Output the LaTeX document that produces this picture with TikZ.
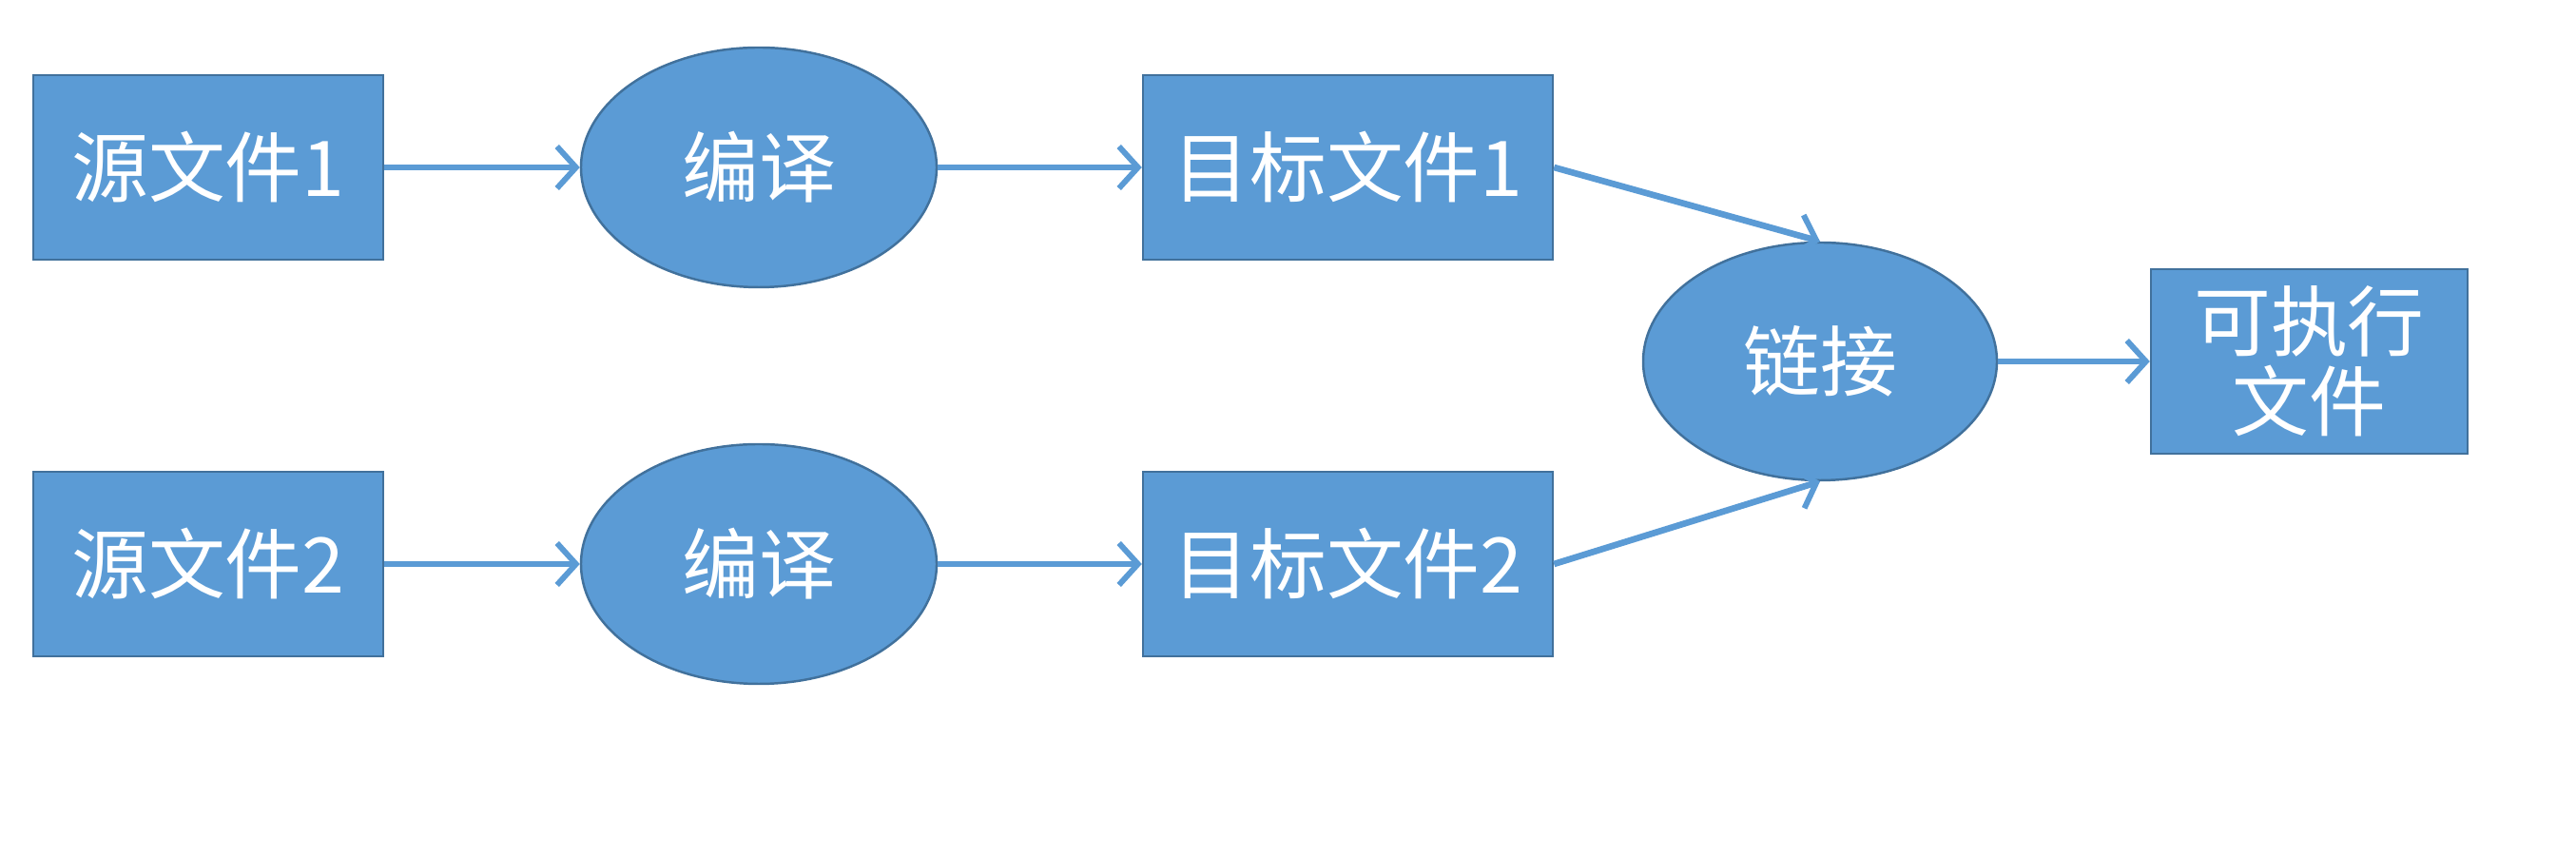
\documentclass[tikz,border=0pt]{standalone}
\usepackage{fontspec}
\setmainfont{Noto Sans CJK SC}
\usepackage{tikz}
\usetikzlibrary{arrows.meta,shapes.geometric}
\definecolor{officeblue}{HTML}{5B9BD5}
\definecolor{officeedge}{HTML}{41719C}
\tikzset{
  filebox/.style={rectangle, draw=officeedge, line width=0.7pt, fill=officeblue, text=white, align=center, minimum height=1.94cm, inner sep=2pt, font=\fontsize{23}{24}\selectfont},
  stepoval/.style={ellipse, draw=officeedge, line width=0.7pt, fill=officeblue, text=white, minimum width=3.74cm, minimum height=2.52cm, inner sep=0pt, font=\fontsize{23}{24}\selectfont},
  flow/.style={officeblue, line width=1.9pt, -{Straight Barb[length=2mm, width=4.4mm, line width=1.7pt]}}
}
\begin{document}
\begin{tikzpicture}
  \useasboundingbox (0,0) rectangle (27.09,9.01);
  % first row
  \node[filebox, minimum width=3.68cm] (src1) at (2.19,7.25) {源文件1};
  \node[stepoval] (cmp1) at (7.98,7.25) {编译};
  \node[filebox, minimum width=4.31cm] (obj1) at (14.175,7.25) {目标文件1};
  % second row
  \node[filebox, minimum width=3.68cm] (src2) at (2.19,3.08) {源文件2};
  \node[stepoval] (cmp2) at (7.98,3.08) {编译};
  \node[filebox, minimum width=4.31cm] (obj2) at (14.175,3.08) {目标文件2};
  % link and result
  \node[stepoval, minimum width=3.72cm, minimum height=2.5cm] (link) at (19.14,5.21) {链接};
  \node[filebox, minimum width=3.33cm] (exe) at (24.285,5.21) {可执行\\文件};
  \draw[flow] (src1) -- (cmp1);
  \draw[flow] (cmp1) -- (obj1);
  \draw[flow] (src2) -- (cmp2);
  \draw[flow] (cmp2) -- (obj2);
  \draw[flow] (obj1.east) -- (link.north);
  \draw[flow] (obj2.east) -- (link.south);
  \draw[flow] (link) -- (exe);
\end{tikzpicture}
\end{document}
